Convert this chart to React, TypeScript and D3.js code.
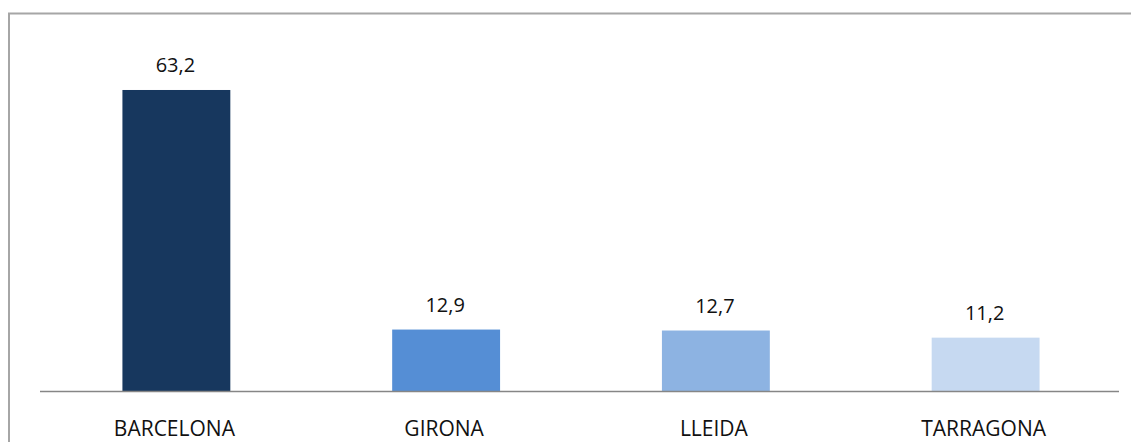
import React from "react";
import * as d3 from "d3";

// provincias y valores (%)
const provinces = ["BARCELONA", "GIRONA", "LLEIDA", "TARRAGONA"];
const values = [63.2, 12.9, 12.7, 11.2];
const barColors = ["#17375e", "#558ed5", "#8db3e2", "#c6d9f1"];

const WIDTH = 1131;
const HEIGHT = 442;

export default function App() {
  const ref = React.useRef<SVGSVGElement>(null);

  React.useEffect(() => {
    drawChart();
  }, []);

  function drawChart() {
    const svg = d3.select(ref.current);
    svg.selectAll("*").remove();

    const axisY = 391;
    const x = d3
      .scaleBand()
      .domain(provinces)
      .range([41.5, 1120.5])
      .paddingInner(0.6)
      .paddingOuter(0.3);

    const y = d3.scaleLinear().domain([0, 70]).range([axisY, 57.6]);

    const fmt = (v: number) => v.toFixed(1).replace(".", ",");

    // chart frame (only top and left edges fall inside the window)
    svg
      .append("path")
      .attr("d", `M9,${HEIGHT + 5}V13.5H${WIDTH + 5}`)
      .attr("fill", "none")
      .attr("stroke", "#a6a6a6")
      .attr("stroke-width", 2);

    const data = provinces.map((p, i) => ({ key: p, value: values[i], color: barColors[i] }));

    svg
      .selectAll("rect.bar")
      .data(data)
      .enter()
      .append("rect")
      .attr("class", "bar")
      .attr("x", (d) => x(d.key)!)
      .attr("width", x.bandwidth())
      .attr("y", (d) => y(d.value))
      .attr("height", (d) => axisY - y(d.value))
      .attr("fill", (d) => d.color);

    svg
      .append("line")
      .attr("x1", 40)
      .attr("x2", 1119)
      .attr("y1", axisY + 0.5)
      .attr("y2", axisY + 0.5)
      .attr("stroke", "#868686")
      .attr("stroke-width", 1.5);

    svg
      .selectAll("text.value")
      .data(data)
      .enter()
      .append("text")
      .attr("class", "value")
      .attr("x", (d) => x(d.key)! + x.bandwidth() / 2 - 1)
      .attr("y", (d) => y(d.value) - 18)
      .attr("text-anchor", "middle")
      .attr("font-family", "'Open Sans', sans-serif")
      .attr("font-size", 20)
      .attr("fill", "#111111")
      .text((d) => fmt(d.value));

    svg
      .selectAll("text.cat")
      .data(data)
      .enter()
      .append("text")
      .attr("class", "cat")
      .attr("x", (d) => x(d.key)! + x.bandwidth() / 2 - 2)
      .attr("y", 436)
      .attr("text-anchor", "middle")
      .attr("font-family", "'Open Sans', sans-serif")
      .attr("font-size", 21)
      .attr("fill", "#111111")
      .text((d) => d.key);
  }

  return (
    <svg
      ref={ref}
      width={WIDTH}
      height={HEIGHT}
      style={{ position: "absolute", left: 0, top: 0, background: "#ffffff" }}
    />
  );
}
